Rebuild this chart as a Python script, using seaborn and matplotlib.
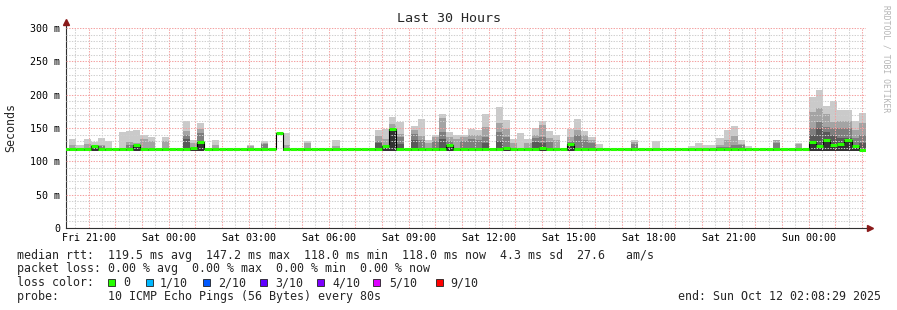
import numpy as np
import pandas as pd
import matplotlib
matplotlib.use("Agg")
import matplotlib.pyplot as plt
import matplotlib.dates as mdates
from matplotlib.ticker import MultipleLocator, FuncFormatter
from matplotlib.patches import Rectangle
import seaborn as sns

# ------------------------------------------------------------------ data
title = "Last 30 Hours"
y_label = "Seconds"
end_time = "2025-10-12 02:08:29"
window_hours = 30
step_minutes = 16
baseline_median_ms = 118.0
smoke_floor_ms = 116.0
day_dates = {"Fri": "2025-10-10", "Sat": "2025-10-11", "Sun": "2025-10-12"}

# bins that carry smoke (start of each 16-minute bin)
smoke_bins = [
    "Fri 20:16:29", "Fri 20:32:29", "Fri 20:48:29", "Fri 21:04:29", "Fri 21:20:29",
    "Fri 21:36:29", "Fri 22:08:29", "Fri 22:24:29", "Fri 22:40:29", "Fri 22:56:29",
    "Fri 23:12:29", "Fri 23:44:29",
    "Sat 00:32:29", "Sat 00:48:29", "Sat 01:04:29", "Sat 01:36:29", "Sat 02:56:29",
    "Sat 03:28:29", "Sat 04:00:29", "Sat 04:16:29", "Sat 05:04:29", "Sat 06:08:29",
    "Sat 07:44:29", "Sat 08:00:29", "Sat 08:16:29", "Sat 08:32:29", "Sat 09:04:29",
    "Sat 09:20:29", "Sat 09:36:29", "Sat 09:52:29", "Sat 10:08:29", "Sat 10:24:29",
    "Sat 10:40:29", "Sat 10:56:29", "Sat 11:12:29", "Sat 11:28:29", "Sat 11:44:29",
    "Sat 12:16:29", "Sat 12:32:29", "Sat 12:48:29", "Sat 13:04:29", "Sat 13:20:29",
    "Sat 13:36:29", "Sat 13:52:29", "Sat 14:08:29", "Sat 14:24:29", "Sat 14:56:29",
    "Sat 15:12:29", "Sat 15:28:29", "Sat 15:44:29", "Sat 16:00:29", "Sat 17:20:29",
    "Sat 18:08:29", "Sat 19:28:29", "Sat 19:44:29", "Sat 20:00:29", "Sat 20:16:29",
    "Sat 20:32:29", "Sat 20:48:29", "Sat 21:04:29", "Sat 21:20:29", "Sat 21:36:29",
    "Sat 22:40:29", "Sat 23:28:29",
    "Sun 00:00:29", "Sun 00:16:29", "Sun 00:32:29", "Sun 00:48:29", "Sun 01:04:29",
    "Sun 01:20:29", "Sun 01:36:29", "Sun 01:52:29",
]
smoke_median = [
    118, 118, 119, 123, 118, 118, 118, 118, 124, 118, 118, 118,
    118, 120, 129, 118, 118, 118, 143, 118, 118, 118, 118, 123, 148, 118, 118,
    118, 118, 118, 118, 124, 118, 118, 118, 118, 118, 118, 120, 118, 118, 118,
    118, 120, 118, 118, 126, 118, 118, 118, 118, 118, 118, 118, 118, 118, 118,
    118, 118, 118, 118, 118, 118, 118,
    129.5, 123.5, 131.5, 124.5, 126.5, 132.5, 122.5, 117,
]
smoke_p10 = [
    133, 124, 133, 129, 134.5, 130, 144, 146, 147, 139, 137, 137,
    161, 132, 158, 132, 125, 131, np.nan, 142, 130, 132, 147, 149, 167, 159, 153,
    164, 132, 140, 171, 144, 140, 140, 149, 147, 171, 182, 162, 133, 142, 133,
    150, 161, 145, 139, 149, 164, 145, 137, 126, 132, 130, 123, 128, 125, 124.5,
    135.5, 147.5, 153.5, 131.5, 123.5, 131.5, 127.5,
    196.5, 207.5, 183.5, 190.5, 176.5, 176.5, 160.5, 172.5,
]
smoke_p9 = [
    125, 118, 126, 125, 125, 118, 118, 129, 127, 133, 130, 130,
    146, 127, 149, 125, 123, 128, np.nan, 125, 128, 123, 138, 133, 156, 141, 147,
    138, 127, 137, 165, 137, 133, 136, 140, 139, 151, 157, 149, 127, 118, 127,
    140, 154, 135, 132, 137, 147, 140, 132, 118, 129, 118, 118, 118, 118, 118,
    125, 132.5, 138.5, 126, 118, 131.5, 126,
    174.5, 180.5, 171, 159.5, 161, 161, 147, 157.5,
]
smoke_p8 = [
    118, 118, 118, 121, 123, 118, 118, 125, 122, 118, 118, 118,
    139, 118, 142, 118, 118, 126, np.nan, 118, 118, 118, 131, 118, 150, 136, 141,
    132, 118, 130, 144, 130, 118, 130, 133, 132, 136, 144, 136, 118, 118, 118,
    135, 137, 129, 118, 130, 140, 132, 128, 118, 126, 118, 118, 118, 118, 118,
    122, 121, 125, 124, 118, 127, 118,
    150.5, 159.5, 152, 150.5, 150.5, 150, 135, 139.5,
]
smoke_p7 = [
    118, 118, 118, 118, 118, 118, 118, 118, 118, 118, 118, 118,
    133, 118, 130, 118, 118, 118, np.nan, 118, 118, 118, 128, 118, 148, 126, 132,
    118, 118, 118, 133, 124, 118, 118, 118, 118, 127, 130, 120, 118, 118, 118,
    129, 127, 118, 118, 126, 118, 118, 118, 118, 118, 118, 118, 118, 118, 118,
    118, 118, 118, 118, 118, 118, 118,
    139.5, 150, 144, 140, 135, 135, 122.5, 128,
]

stat_median = {"avg": 119.5, "max": 147.2, "min": 118.0, "now": 118.0}
stat_sd_ms = 4.3
stat_am_s = 27.6
stat_loss = {"avg": 0.00, "max": 0.00, "min": 0.00, "now": 0.00}
loss_labels = ["0", "1/10", "2/10", "3/10", "4/10", "5/10", "9/10"]
loss_colors = ["#26ff00", "#00b8ff", "#0059ff", "#5e00ff", "#7e00ff", "#dd00ff", "#ff0000"]
probe_text = "10 ICMP Echo Pings (56 Bytes) every 80s"
end_label = "end: Sun Oct 12 02:08:29 2025"
watermark = "RRDTOOL / TOBI OETIKER"

# smoke shades (outer band lightest, inner band darkest)
smoke_grays = ["#cacaca", "#a4a4a4", "#7e7e7e", "#585858", "#323232"]

# ------------------------------------------------------------------ prep
end = pd.Timestamp(end_time)
step = pd.Timedelta(minutes=step_minutes)
n_bins = int(np.ceil(window_hours * 60 / step_minutes))
starts = pd.DatetimeIndex([end - step * k for k in range(n_bins, 0, -1)])
median = pd.Series(baseline_median_ms, index=starts)
smoke_idx = pd.DatetimeIndex(
    [pd.Timestamp(f"{day_dates[s[:3]]} {s[4:]}") for s in smoke_bins])
median.loc[smoke_idx] = smoke_median

xs = mdates.date2num(median.index.to_pydatetime())
x_end = mdates.date2num(end.to_pydatetime())
x_start = mdates.date2num((end - pd.Timedelta(hours=window_hours)).to_pydatetime())
bin_w = step_minutes / 1440.0
sx = mdates.date2num(smoke_idx.to_pydatetime())

# ------------------------------------------------------------------ figure
sns.set_style("white")
plt.rcParams["font.family"] = ["DejaVu Sans Mono"]

W, H = 897, 310
L, R, T, B = 65.8, 865.8, 28.0, 228.0
fig = plt.figure(figsize=(W / 100, H / 100), dpi=100)
fig.patch.set_facecolor("white")
ax = fig.add_axes([L / W, 1 - B / H, (R - L) / W, (B - T) / H])

valid = ~np.isnan(np.asarray(smoke_p10, dtype=float))
bands = [smoke_p10, smoke_p9, smoke_p8, smoke_p7, smoke_median]
for vals, col in zip(bands, smoke_grays):
    v = np.asarray(vals, dtype=float)[valid]
    ax.bar(sx[valid], v - smoke_floor_ms, bottom=smoke_floor_ms, width=bin_w,
           align="edge", color=col, linewidth=0, zorder=1)

line_x = np.append(xs, x_end)
line_y = np.append(median.values, median.values[-1])
sns.lineplot(x=line_x, y=line_y, drawstyle="steps-post", color="black",
             linewidth=0.8, ax=ax, zorder=3, sort=False)
ax.hlines(median.values, xs, xs + bin_w, colors=loss_colors[0], linewidth=2.2,
          zorder=4)

ax.set_xlim(x_start, x_end)
ax.set_ylim(0, 300)
ax.set_xlabel("")
ax.set_ylabel("")

ax.xaxis.set_major_locator(mdates.HourLocator(interval=1))
ax.xaxis.set_minor_locator(mdates.MinuteLocator(byminute=[30]))


def xfmt(v, pos):
    d = mdates.num2date(v)
    return d.strftime("%a %H:%M") if d.hour % 3 == 0 and d.minute == 0 else ""


ax.xaxis.set_major_formatter(FuncFormatter(xfmt))
ax.yaxis.set_major_locator(MultipleLocator(50))
ax.yaxis.set_minor_locator(MultipleLocator(10))
ax.yaxis.set_major_formatter(FuncFormatter(lambda v, p: "0" if v == 0 else f"{v:.0f} m"))

ax.set_axisbelow(False)
ax.grid(which="major", color="#f4a0a0", linestyle=(0, (1.3, 1.3)), linewidth=0.75)
ax.grid(which="minor", color="#cfcfcf", linestyle=(0, (1.3, 1.3)), linewidth=0.75)
ax.tick_params(axis="both", which="both", length=0, labelsize=7.2, colors="black")
ax.tick_params(axis="x", pad=3.5)
ax.tick_params(axis="y", pad=4.0)

for s in ["top", "right"]:
    ax.spines[s].set_visible(False)
for s in ["left", "bottom"]:
    ax.spines[s].set_color("#303030")
    ax.spines[s].set_linewidth(0.8)

# axis arrows
ax.plot([0, 0], [1, 1.03], transform=ax.transAxes, color="#303030", lw=0.8,
        clip_on=False)
ax.plot([1, 1.005], [0, 0], transform=ax.transAxes, color="#303030", lw=0.8,
        clip_on=False)
ax.plot([0], [1.03], marker="^", markersize=4, color="#8b1a1a",
        transform=ax.transAxes, clip_on=False, lw=0)
ax.plot([1.005], [0], marker=">", markersize=4, color="#8b1a1a",
        transform=ax.transAxes, clip_on=False, lw=0)


def fx(px):
    return px / W


def fy(py):
    return 1 - py / H


fig.text(fx(448.5), fy(19), title, ha="center", va="center", fontsize=9.6)
fig.text(fx(11), fy(128), y_label, ha="center", va="center", rotation=90,
         fontsize=8.4)
fig.text(fx(886), fy(59), watermark, ha="center", va="center", rotation=270,
         fontsize=5.8, color="#b4b4b4")

row1 = ("median rtt:  "
        f"{stat_median['avg']:.1f} ms avg  {stat_median['max']:.1f} ms max  "
        f"{stat_median['min']:.1f} ms min  {stat_median['now']:.1f} ms now  "
        f"{stat_sd_ms:.1f} ms sd  {stat_am_s:.1f}   am/s")
row2 = ("packet loss: "
        f"{stat_loss['avg']:.2f} % avg  {stat_loss['max']:.2f} % max  "
        f"{stat_loss['min']:.2f} % min  {stat_loss['now']:.2f} % now")
row4 = "probe:       " + probe_text
legend_fs = 8.4
fig.text(fx(16.5), fy(255), row1, ha="left", va="center", fontsize=legend_fs)
fig.text(fx(16.5), fy(268.5), row2, ha="left", va="center", fontsize=legend_fs)
fig.text(fx(16.5), fy(282.5), "loss color:", ha="left", va="center", fontsize=legend_fs)
fig.text(fx(16.5), fy(296.5), row4, ha="left", va="center", fontsize=legend_fs)
fig.text(fx(881), fy(296.5), end_label, ha="right", va="center", fontsize=legend_fs)

sq_x = [108, 146, 203, 260, 317, 373, 436]
lab_x = [123, 160, 218, 275, 332, 389, 450]
for sxp, lx, lab, col in zip(sq_x, lab_x, loss_labels, loss_colors):
    fig.add_artist(Rectangle((fx(sxp), fy(286)), 7 / W, 7 / H,
                             transform=fig.transFigure, facecolor=col,
                             edgecolor="#202020", linewidth=0.6))
    fig.text(fx(lx), fy(282.5), lab, ha="left", va="center", fontsize=legend_fs)

fig.savefig("out.png", dpi=100, facecolor="white")
